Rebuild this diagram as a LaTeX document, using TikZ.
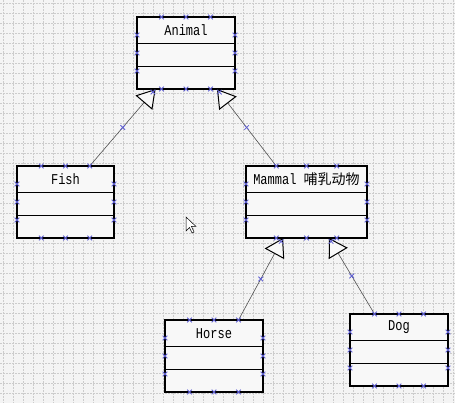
\documentclass[tikz,border=0pt]{standalone}
\usepackage{fontspec}
\newfontfamily\classfont[FakeStretch=0.8]{Liberation Mono}
\newfontfamily\cjkfont{Noto Sans CJK SC}
\usetikzlibrary{arrows.meta,calc}

\definecolor{canvas}{RGB}{244,244,244}
\definecolor{gridgray}{RGB}{204,204,204}
\definecolor{boxfill}{RGB}{248,248,248}
\definecolor{handleblue}{RGB}{95,95,210}
\definecolor{linkgray}{RGB}{80,80,80}

\tikzset{
	classbox/.style={draw=black, line width=1.3pt, fill=boxfill, minimum height=72pt, inner sep=0pt, outer sep=0pt},
	classtitle/.style={anchor=north, minimum height=26pt, inner sep=0pt, font=\classfont\fontsize{15}{15}\selectfont},
	divider/.style={line width=1.3pt},
	gridline/.style={gridgray, line width=0.5pt, dash pattern=on 2pt off 1pt},
	inherit/.style={linkgray, line width=0.6pt, -{Triangle[open, length=18pt, width=22pt, line width=1pt, color=black, fill=boxfill]}},
	handle/.pic={\draw[handleblue, line width=0.8pt] (-2.3,-2.3) -- (2.3,2.3) (-2.3,2.3) -- (2.3,-2.3);}
}

\begin{document}
\begin{tikzpicture}[x=1pt,y=-1pt]
	% canvas and grid
	\fill[canvas] (0,0) rectangle (455,403);
	\useasboundingbox (0,0) rectangle (455,403);
	\foreach \gx in {3,13,...,453}
		\draw[gridline] (\gx,0) -- (\gx,403);
	\foreach \gy in {3,13,...,403}
		\draw[gridline] (0,\gy) -- (455,\gy);

	% classes
	\node[classbox, minimum width=98pt] (Animal) at (186,53) {};
	\node[classbox, minimum width=97pt] (Fish) at (65.5,202) {};
	\node[classbox, minimum width=121pt] (Mammal) at (306.5,202) {};
	\node[classbox, minimum width=98pt] (Horse) at (214,356) {};
	\node[classbox, minimum width=98pt] (Dog) at (399,350) {};

	% class names
	\node[classtitle, minimum width=98pt] (AnimalT) at (Animal.north) {Animal};
	\node[classtitle, minimum width=97pt] (FishT) at (Fish.north) {Fish};
	\node[classtitle, minimum width=121pt] (MammalT) at (Mammal.north) {Mammal {\cjkfont\fontsize{14}{14}\selectfont 哺乳动物}};
	\node[classtitle, minimum width=98pt] (HorseT) at (Horse.north) {Horse};
	\node[classtitle, minimum width=98pt] (DogT) at (Dog.north) {Dog};

	% compartments
	\foreach \c in {Animal,Fish,Mammal,Horse,Dog} {
		\draw[divider] (\c T.south west) -- (\c T.south east);
		\draw[divider] ([yshift=-23pt]\c T.south west) -- ([yshift=-23pt]\c T.south east);
	}

	% connector ends
	\coordinate (FishUp) at ($(Fish.north west)!0.75!(Fish.north east)$);
	\coordinate (MammalUp) at ($(Mammal.north west)!0.25!(Mammal.north east)$);
	\coordinate (HorseUp) at ($(Horse.north west)!0.75!(Horse.north east)$);
	\coordinate (DogUp) at ($(Dog.north west)!0.25!(Dog.north east)$);
	\coordinate (AnimalL) at ($(Animal.south west)!0.19!(Animal.south east)$);
	\coordinate (AnimalR) at ($(Animal.south west)!0.816!(Animal.south east)$);
	\coordinate (MammalL) at ($(Mammal.south west)!0.306!(Mammal.south east)$);
	\coordinate (MammalR) at ($(Mammal.south west)!0.686!(Mammal.south east)$);

	% generalisations
	\draw[inherit] (FishUp) -- (AnimalL);
	\draw[inherit] (MammalUp) -- (AnimalR);
	\draw[inherit] (HorseUp) -- (MammalL);
	\draw[inherit] (DogUp) -- (MammalR);

	% selection handles
	\foreach \c in {Animal,Fish,Mammal,Horse,Dog}
		\foreach \t in {0.25,0.5,0.75} {
			\pic at ($(\c.north west)!\t!(\c.north east)$) {handle};
			\pic at ($(\c.south west)!\t!(\c.south east)$) {handle};
			\pic at ($(\c.north west)!\t!(\c.south west)$) {handle};
			\pic at ($(\c.north east)!\t!(\c.south east)$) {handle};
		}
	\foreach \a/\b in {FishUp/AnimalL,MammalUp/AnimalR,HorseUp/MammalL,DogUp/MammalR} {
		\pic at ($(\a)!0.5!(\b)$) {handle};
		\pic at ($(\b)!4pt!(\a)$) {handle};
	}

	% mouse pointer
	\draw[fill=white, line width=0.5pt, shift={(186,217)}] (0,0) -- (0,14) -- (3.5,10.5) -- (6,16) -- (8,15) -- (5.5,9.5) -- (10,9.5) -- cycle;
\end{tikzpicture}
\end{document}
